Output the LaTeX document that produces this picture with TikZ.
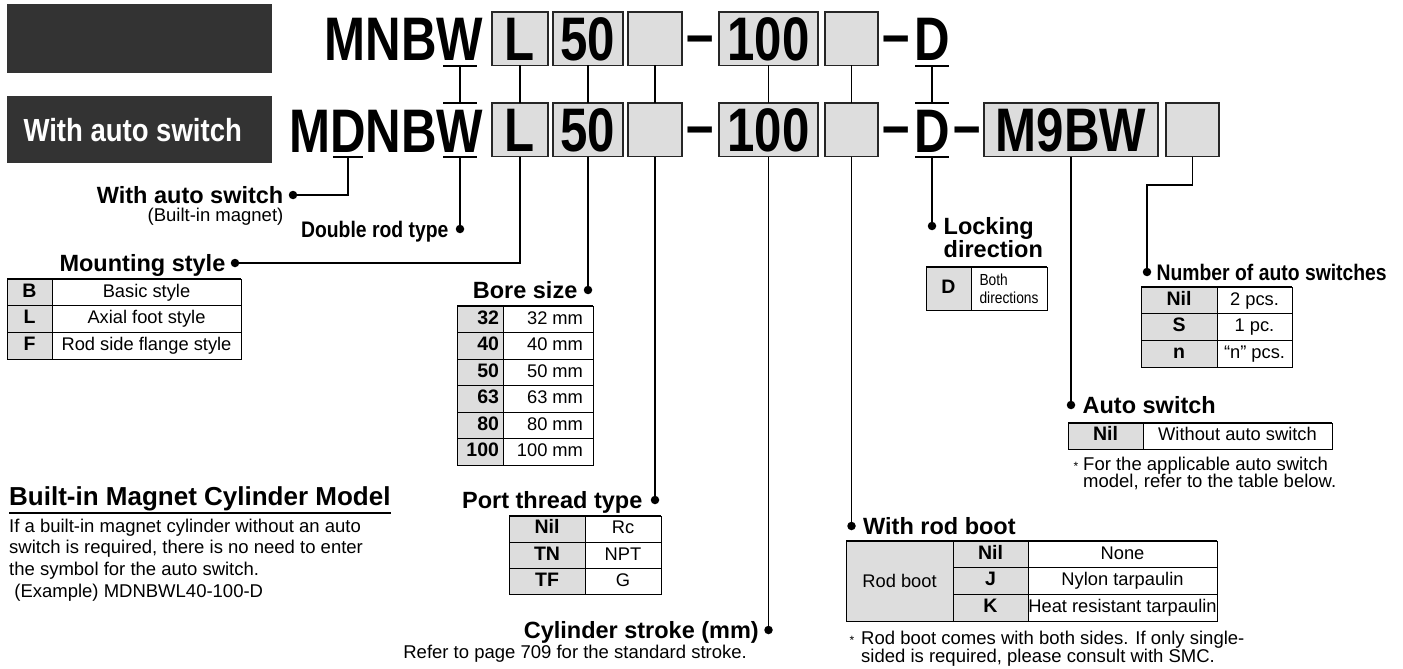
\documentclass[tikz,border=0pt]{standalone}
\usepackage{fontspec}
\setmainfont{Liberation Sans}
\newfontfamily\codefont[FakeStretch=0.8]{Liberation Sans}
\newfontfamily\narrowfont[FakeStretch=0.86]{Liberation Sans}
\usepackage{tikz}
\usetikzlibrary{arrows.meta, positioning, calc}
\definecolor{smcdark}{RGB}{51, 51, 51}
\definecolor{smcgray}{RGB}{221, 221, 221}

\begin{document}
\begin{tikzpicture}[x=1pt, y=-1pt,
    codebox/.style={draw=black!85, fill=smcgray, line width=1.6pt, minimum height=53.5pt, inner sep=0pt, outer sep=0pt, text height=44pt, text depth=0pt, font=\codefont\bfseries\fontsize{61.5}{62}\selectfont},
    codetext/.style={inner sep=0pt, outer sep=0pt, font=\codefont\bfseries\fontsize{61.5}{62}\selectfont},
    codedash/.style={codetext, text height=33pt, text depth=0pt},
    bar/.style={line width=1.8pt},
    lead/.style={line width=1.8pt},
    dot/.style={circle, fill=black, inner sep=0pt, minimum size=8.5pt},
    head/.style={inner sep=0pt, font=\bfseries\fontsize{23.5}{26}\selectfont, text height=17pt, text depth=0pt},
    narrowhead/.style={inner sep=0pt, font=\narrowfont\bfseries\fontsize{22.5}{26}\selectfont, text height=16pt, text depth=0pt},
    note/.style={inner sep=0pt, font=\fontsize{18.5}{21.7}\selectfont},
    notepar/.style={inner sep=0pt, align=left, font=\fontsize{18.5}{21.7}\selectfont},
    star/.style={inner sep=0pt, font=\fontsize{12}{12}\selectfont},
    cell/.style={draw, line width=0.9pt, inner sep=0pt, outer sep=0pt, anchor=north west},
    key/.style={cell, fill=smcgray, text height=13.5pt, text depth=4pt, font=\bfseries\fontsize{19.5}{22}\selectfont},
    val/.style={cell, fill=white, text height=13.5pt, text depth=4pt, font=\fontsize{18.3}{22}\selectfont},
    topline/.style={line width=2.2pt}]
  \useasboundingbox (0,0) rectangle (1403,669);

  \node[fill=smcdark, minimum width=265pt, minimum height=69pt, inner sep=0pt, anchor=north west] (tagplain) at (7,4) {};
  \node[fill=smcdark, minimum width=265pt, minimum height=67pt, inner sep=0pt, anchor=north west] (tagauto) at (7,96) {};
  \node[text=white, inner sep=0pt, font=\narrowfont\bfseries\fontsize{32}{32}\selectfont, text height=23pt, text depth=0pt] (tagtext) at ([xshift=-7pt]tagauto.center) {With auto switch};

  \node[codetext, anchor=base] (w1) at (460,60) {W};
  \node[codetext, anchor=base east] (mnb1) at (w1.base west) {MNB};
  \node[codebox, minimum width=56pt] (l1) at (520,38.75) {L};
  \node[codebox, minimum width=70pt] (bore1) at (588,38.75) {50};
  \node[codebox, minimum width=54pt] (port1) at (655,38.75) {};
  \node[codebox, minimum width=99pt] (stroke1) at (768.5,38.75) {100};
  \node[codebox, minimum width=53pt] (boot1) at (851.5,38.75) {};
  \node[codetext, anchor=base] (lock1) at (932,60) {D};
  \node[codedash] (dash1) at ($(port1.east)!0.5!(stroke1.west)$) {–};
  \node[codedash] (dash2) at ($(boot1.east)!0.5!(lock1.west)$) {–};

  \node[codetext, anchor=base] (w2) at (460,152) {W};
  \node[codetext, anchor=base east] (nb2) at (w2.base west) {NB};
  \node[codetext, anchor=base east] (d2) at (nb2.base west) {D};
  \node[codetext, anchor=base east] (m2) at (d2.base west) {M};
  \node[codebox, minimum width=56pt, below=37.5pt of l1] (l2) {L};
  \node[codebox, minimum width=70pt, below=37.5pt of bore1] (bore2) {50};
  \node[codebox, minimum width=54pt, below=37.5pt of port1] (port2) {};
  \node[codebox, minimum width=99pt, below=37.5pt of stroke1] (stroke2) {100};
  \node[codebox, minimum width=53pt, below=37.5pt of boot1] (boot2) {};
  \node[codetext, anchor=base] (lock2) at (932,152) {D};
  \node[codebox, minimum width=174pt] (switch2) at (1071,129.75) {M9BW};
  \node[codebox, minimum width=53pt] (count2) at (1192.5,129.75) {};
  \node[codedash] (dash3) at ($(port2.east)!0.5!(stroke2.west)$) {–};
  \node[codedash] (dash4) at ($(boot2.east)!0.5!(lock2.west)$) {–};
  \node[codedash] (dash5) at ($(lock2.east)!0.5!(switch2.west)$) {–};

  \coordinate (w1u) at ($(w1.base)+(0,6)$);
  \coordinate (w2o) at ($(w2.base)+(0,-49)$);
  \coordinate (w2u) at ($(w2.base)+(0,5)$);
  \coordinate (d2u) at ($(d2.base)+(0,5)$);
  \coordinate (lock1u) at ($(lock1.base)+(0,6)$);
  \coordinate (lock2o) at ($(lock2.base)+(0,-49)$);
  \coordinate (lock2u) at ($(lock2.base)+(0,5)$);
  \foreach \c in {w1u, w2o, w2u, lock1u, lock2o, lock2u}
    \draw[bar] ($(\c)+(-17,0)$) -- ($(\c)+(17,0)$);
  \draw[bar] ($(d2u)+(-15,0)$) -- ($(d2u)+(15,0)$);

  \draw[lead] (w1u) -- (w2o);
  \draw[lead] (lock1u) -- (lock2o);
  \foreach \a/\b in {l1/l2, bore1/bore2, port1/port2, stroke1/stroke2, boot1/boot2}
    \draw[lead] (\a.south) -- (\b.north);

  \node[dot] (autodot) at (293,195) {};
  \node[dot] (rodtypedot) at (460,229) {};
  \node[dot] (mountdot) at (235,263) {};
  \node[dot] (boredot) at (588,290) {};
  \node[dot] (portdot) at (655,500) {};
  \node[dot] (strokedot) at (768.5,630) {};
  \node[dot] (bootdot) at (851.5,526) {};
  \node[dot] (lockdot) at (932,226) {};
  \node[dot] (switchdot) at (1071,405) {};
  \node[dot] (countdot) at (1147,272) {};

  \draw[lead] (d2u) |- (autodot);
  \draw[lead] (w2u) -- (rodtypedot);
  \draw[lead] (l2.south) |- (mountdot);
  \draw[lead] (bore2.south) -- (boredot);
  \draw[lead] (port2.south) -- (portdot);
  \draw[lead] (stroke2.south) -- (strokedot);
  \draw[lead] (boot2.south) -- (bootdot);
  \draw[lead] (lock2u) -- (lockdot);
  \draw[lead] (switch2.south) -- (switchdot);
  \draw[lead] (count2.south) -- ++(0,28.5) -| (countdot);

  \node[head, left=5pt of autodot] (autolbl) {With auto switch};
  \node[note, anchor=base east] (magnetlbl) at ($(autolbl.base east)+(0,18)$) {(Built-in magnet)};
  \node[narrowhead, left=7pt of rodtypedot] (rodtypelbl) {Double rod type};
  \node[head, left=5pt of mountdot] (mountlbl) {Mounting style};
  \node[head, left=6pt of boredot] (borelbl) {Bore size};
  \node[head, left=8pt of portdot] (portlbl) {Port thread type};
  \node[head, left=5pt of strokedot] (strokelbl) {Cylinder stroke (mm)};
  \node[note, anchor=base east] (strokenote) at ($(strokelbl.base east)+(-12,19.5)$) {Refer to page 709 for the standard stroke.};
  \node[head, right=7pt of lockdot] (locklbl) {Locking};
  \node[head, anchor=base west] (locklbl2) at ($(locklbl.base west)+(0,23)$) {direction};
  \node[narrowhead, right=5pt of countdot] (countlbl) {Number of auto switches};
  \node[head, right=7pt of switchdot] (switchlbl) {Auto switch};
  \node[head, right=7pt of bootdot] (bootlbl) {With rod boot};

  \foreach \k/\v [count=\i] in {B/Basic style, L/Axial foot style, F/Rod side flange style}{
    \node[key, minimum width=45pt, minimum height=26.7pt] (mntk\i) at (7,{279+(\i-1)*26.7}) {\k};
    \node[val, minimum width=189pt, minimum height=26.7pt] (mntv\i) at (mntk\i.north east) {\v};
  }
  \draw[topline] (mntk1.north west) -- (mntv1.north east);

  \foreach \k [count=\i] in {32, 40, 50, 63, 80, 100}{
    \node[key, minimum width=46pt, minimum height=26.5pt] (borek\i) at (457,{306+(\i-1)*26.5}) {\makebox[38pt][r]{\k}};
    \node[val, minimum width=90pt, minimum height=26.5pt] (borev\i) at (borek\i.north east) {\makebox[70pt][r]{\k\ mm}};
  }
  \draw[topline] (borek1.north west) -- (borev1.north east);

  \foreach \k/\v [count=\i] in {Nil/Rc, TN/NPT, TF/G}{
    \node[key, minimum width=76pt, minimum height=26.3pt] (portk\i) at (509,{516+(\i-1)*26.3}) {\k};
    \node[val, minimum width=76pt, minimum height=26.3pt] (portv\i) at (portk\i.north east) {\v};
  }
  \draw[topline] (portk1.north west) -- (portv1.north east);

  \node[key, minimum width=45pt, minimum height=43pt] (lockk) at (926,267) {D};
  \node[cell, fill=white, minimum width=76pt, minimum height=43pt, align=left, font=\narrowfont\fontsize{16}{18}\selectfont] (lockv) at (lockk.north east) {Both\\directions};
  \draw[topline] (lockk.north west) -- (lockv.north east);

  \foreach \k/\v [count=\i] in {Nil/2 pcs., S/1 pc., n/“n” pcs.}{
    \node[key, minimum width=76pt, minimum height=26.7pt] (countk\i) at (1141,{287+(\i-1)*26.7}) {\k};
    \node[val, minimum width=75pt, minimum height=26.7pt] (countv\i) at (countk\i.north east) {\v};
  }
  \draw[topline] (countk1.north west) -- (countv1.north east);

  \node[key, minimum width=75pt, minimum height=26pt] (switchk) at (1068,423) {Nil};
  \node[val, minimum width=189pt, minimum height=26pt] (switchv) at (switchk.north east) {Without auto switch};
  \draw[topline] (switchk.north west) -- (switchv.north east);
  \node[star, anchor=base] (switchstar) at (1076,470) {*};
  \node[notepar, anchor=north west, font=\fontsize{18.5}{17.5}\selectfont] (switchnote) at (1083,456.5) {For the applicable auto switch\\model, refer to the table below.};

  \node[cell, fill=smcgray, minimum width=107pt, minimum height=80pt, font=\fontsize{18.3}{22}\selectfont] (bootside) at (846,541) {Rod boot};
  \foreach \k/\v [count=\i] in {Nil/None, J/Nylon tarpaulin, K/Heat resistant tarpaulin}{
    \node[key, minimum width=75pt, minimum height=26.67pt] (bootk\i) at ($(bootside.north east)+(0,{(\i-1)*26.67})$) {\k};
    \node[val, minimum width=189pt, minimum height=26.67pt] (bootv\i) at (bootk\i.north east) {\v};
  }
  \draw[topline] (bootside.north west) -- (bootv1.north east);
  \node[star, anchor=base] (bootstar) at (852,644) {*};
  \node[notepar, anchor=north west, font=\fontsize{18.5}{18}\selectfont] (bootnote) at (861,630.5) {Rod boot comes with both sides. If only single-\\sided is required, please consult with SMC.};

  \node[inner sep=0pt, anchor=base west, font=\bfseries\fontsize{26}{28}\selectfont] (magnethead) at (9,505) {Built-in Magnet Cylinder Model};
  \draw[line width=2pt] ([yshift=-8pt]magnethead.base west) -- ([yshift=-8pt]magnethead.base east);
  \node[notepar, anchor=north west] (magnettext) at (9,518.5) {If a built-in magnet cylinder without an auto\\switch is required, there is no need to enter\\the symbol for the auto switch.\\\ (Example) MDNBWL40-100-D};
\end{tikzpicture}
\end{document}
